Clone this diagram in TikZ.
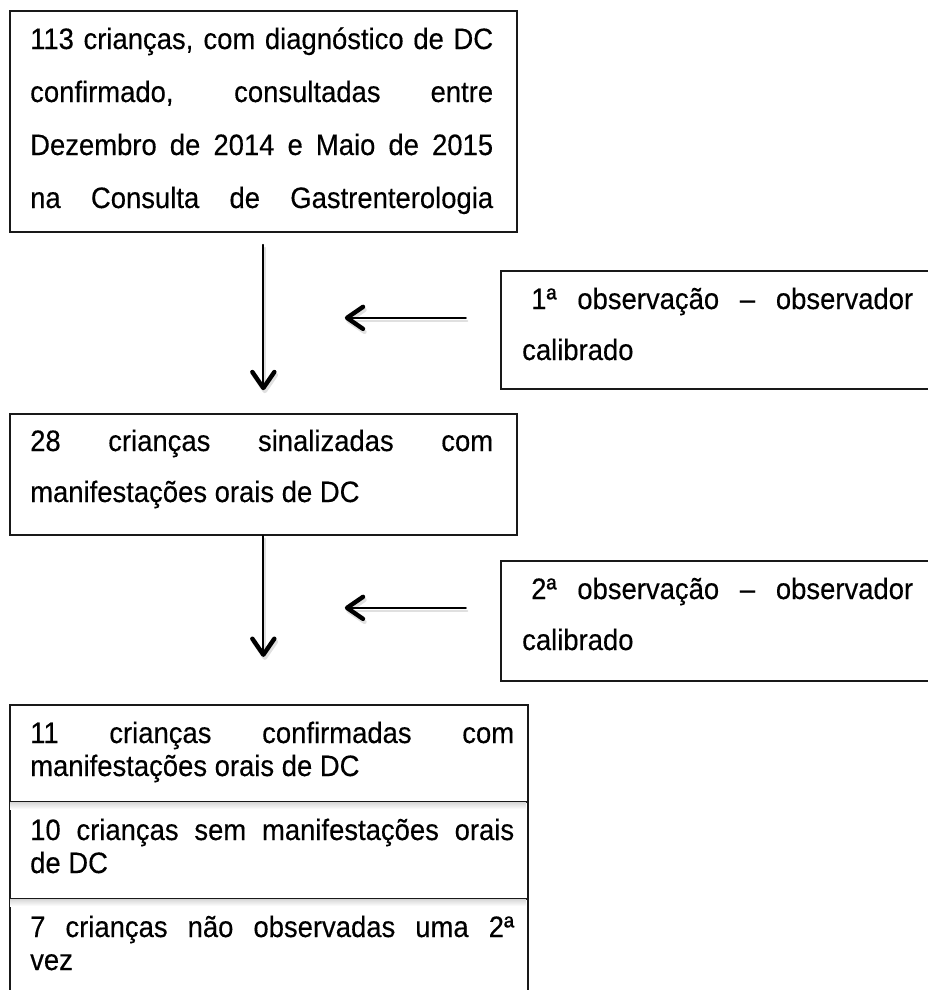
\documentclass[tikz,border=0pt]{standalone}
\usepackage{fontspec}
\setmainfont{Liberation Sans}[FakeStretch=0.93,FakeBold=0.3]
\usetikzlibrary{calc}
\begin{document}
\begin{tikzpicture}[x=1pt,y=-1pt,
  box/.style={draw=black!90, line width=1.7pt, inner sep=0pt, anchor=north west},
  txt/.style={anchor=base west, inner sep=0pt, font=\fontsize{29.5}{35}\selectfont},
  shaft/.style={line width=1.8pt, line cap=round},
  head/.style={line width=4.4pt, line cap=round, line join=round},
  shadowed/.style={draw=black!12, transform canvas={shift={(1.5pt,-3pt)}}},
  divshadow/.style={top color=black!16, bottom color=white, draw=none}]
\useasboundingbox (0,0) rectangle (928,990);
\clip (0,0) rectangle (928,990);

% boxes
\node[box, minimum width=507pt, minimum height=221pt] (b1) at (9,10) {};
\node[box, minimum width=440pt, minimum height=118pt] (o1) at (500,270) {};
\node[box, minimum width=507pt, minimum height=121pt] (b2) at (9,413) {};
\node[box, minimum width=440pt, minimum height=120pt] (o2) at (500,560) {};
\node[box, minimum width=518pt, minimum height=97pt] (b3a) at (9,704) {};
\node[box, minimum width=518pt, minimum height=97pt] (b3b) at (9,801) {};
\node[box, minimum width=518pt, minimum height=110pt] (b3c) at (9,898) {};

% shadows under dividers
\shade[divshadow] (10,802) rectangle (526,809);
\shade[divshadow] (10,899) rectangle (526,906);

% texts
\node[txt] (t1a) at (30,49)  {\makebox[463pt][s]{113 crianças, com diagnóstico de DC}};
\node[txt] (t1b) at (30,102) {\makebox[463pt][s]{confirmado, consultadas entre}};
\node[txt] (t1c) at (30,155) {\makebox[463pt][s]{Dezembro de 2014 e Maio de 2015}};
\node[txt] (t1d) at (30,208) {\makebox[463pt][s]{na Consulta de Gastrenterologia}};

\node[txt] (to1a) at (531,309) {\makebox[382pt][s]{1ª observação – observador}};
\node[txt] (to1b) at (522,360) {calibrado};

\node[txt] (t2a) at (30,451) {\makebox[463pt][s]{28 crianças sinalizadas com}};
\node[txt] (t2b) at (30,502) {manifestações orais de DC};

\node[txt] (to2a) at (531,599) {\makebox[382pt][s]{2ª observação – observador}};
\node[txt] (to2b) at (522,650) {calibrado};

\node[txt] (t3a) at (30,743) {\makebox[484pt][s]{11 crianças confirmadas com}};
\node[txt] (t3b) at (30,776) {manifestações orais de DC};
\node[txt] (t3c) at (30,840) {\makebox[484pt][s]{10 crianças sem manifestações orais}};
\node[txt] (t3d) at (30,873) {de DC};
\node[txt] (t3e) at (30,937) {\makebox[484pt][s]{7 crianças não observadas uma 2ª}};
\node[txt] (t3f) at (30,970) {vez};

% connector end points
\coordinate (v1s) at ([yshift=-12pt]b1.south);
\coordinate (v1e) at ([yshift=25pt]b2.north);
\coordinate (v2e) at ($(b2.south)+(0,119)$);
\coordinate (h1s) at ([xshift=-34pt,yshift=12pt]o1.west);
\coordinate (h1e) at ($(h1s)+(-119,0)$);
\coordinate (h2s) at ([xshift=-34pt,yshift=13pt]o2.west);
\coordinate (h2e) at ($(h2s)+(-119,0)$);

% shadows of arrows
\begin{scope}[shadowed]
\draw[shaft] (v1s) -- (v1e);
\draw[head] ($(v1e)+(-11,-16)$) -- (v1e) -- ($(v1e)+(11,-16)$);
\draw[shaft] (b2.south) -- (v2e);
\draw[head] ($(v2e)+(-11,-16)$) -- (v2e) -- ($(v2e)+(11,-16)$);
\draw[shaft] (h1s) -- (h1e);
\draw[head] ($(h1e)+(16,-11)$) -- (h1e) -- ($(h1e)+(16,11)$);
\draw[shaft] (h2s) -- (h2e);
\draw[head] ($(h2e)+(16,-11)$) -- (h2e) -- ($(h2e)+(16,11)$);
\end{scope}

% arrows
\draw[shaft] (v1s) -- (v1e);
\draw[head] ($(v1e)+(-11,-16)$) -- (v1e) -- ($(v1e)+(11,-16)$);
\draw[shaft] (b2.south) -- (v2e);
\draw[head] ($(v2e)+(-11,-16)$) -- (v2e) -- ($(v2e)+(11,-16)$);
\draw[shaft] (h1s) -- (h1e);
\draw[head] ($(h1e)+(16,-11)$) -- (h1e) -- ($(h1e)+(16,11)$);
\draw[shaft] (h2s) -- (h2e);
\draw[head] ($(h2e)+(16,-11)$) -- (h2e) -- ($(h2e)+(16,11)$);
\end{tikzpicture}
\end{document}
